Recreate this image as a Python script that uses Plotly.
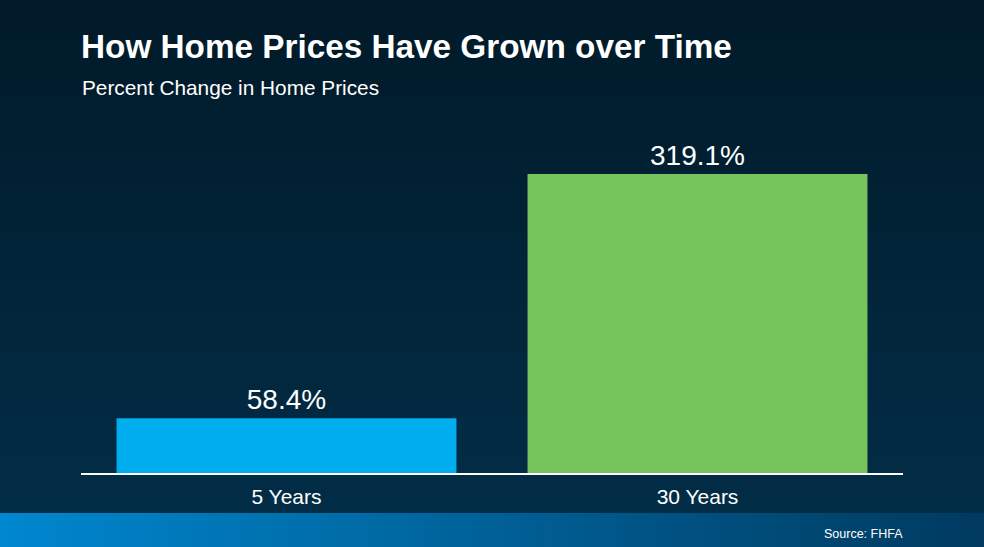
import plotly.graph_objects as go

# ---- data ----
categories = ["5 Years", "30 Years"]
values = [58.4, 319.1]
bar_colors = ["#00aeef", "#75c45c"]

title_text = "How Home Prices Have Grown over Time"
subtitle_text = "Percent Change in Home Prices"
source_text = "Source: FHFA"

# ---- layout constants (pixels) ----
W, H = 984, 547
ML, MR, MT, MB = 81, 81, 140, 74
PW, PH = W - ML - MR, H - MT - MB
Y_MAX = 355.4


def px_x(px):
    return (px - ML) / PW


def px_y(py):
    return (H - MB - py) / PH


def lerp(c1, c2, t):
    a = [int(c1[i:i + 2], 16) for i in (1, 3, 5)]
    b = [int(c2[i:i + 2], 16) for i in (1, 3, 5)]
    return "rgb(%d,%d,%d)" % tuple(round(a[k] + (b[k] - a[k]) * t) for k in range(3))


shapes = []
# vertical background gradient (each band extends to the bottom so no seams show)
n = 60
strip_top = 513
for i in range(n):
    y0 = strip_top * i / n
    shapes.append(dict(type="rect", xref="paper", yref="paper", layer="below",
                       x0=px_x(-2), x1=px_x(W + 2), y0=px_y(strip_top), y1=px_y(y0),
                       fillcolor=lerp("#011a28", "#022d47", i / (n - 1)), line_width=0))
# bottom horizontal gradient strip (each band extends to the right edge)
m = 80
for i in range(m):
    x0 = W * i / m
    shapes.append(dict(type="rect", xref="paper", yref="paper", layer="below",
                       x0=px_x(x0), x1=px_x(W + 2), y0=px_y(H + 2), y1=px_y(strip_top),
                       fillcolor=lerp("#0087cf", "#003a60", i / (m - 1)), line_width=0))

fig = go.Figure(go.Bar(
    x=categories, y=values,
    marker=dict(color=bar_colors, line_width=0),
    width=0.827,
    texttemplate="%{y:.1f}%", textposition="outside",
    textfont=dict(size=28, color="white", family="Liberation Sans, Arial, sans-serif"),
    cliponaxis=False,
))

fig.update_layout(
    width=W, height=H,
    margin=dict(l=ML, r=MR, t=MT, b=MB, pad=0),
    paper_bgcolor="#011a28", plot_bgcolor="rgba(0,0,0,0)",
    font=dict(family="Liberation Sans, Arial, sans-serif", color="white"),
    showlegend=False,
    bargap=0.173,
    shapes=shapes,
    xaxis=dict(showline=True, linecolor="white", linewidth=2, showgrid=False,
               ticks="", ticklabelstandoff=4,
               tickfont=dict(size=21, color="white"), fixedrange=True),
    yaxis=dict(range=[0, Y_MAX], visible=False, showgrid=False, fixedrange=True),
    annotations=[
        dict(text="<b>" + title_text + "</b>", xref="paper", yref="paper",
             x=px_x(79), y=px_y(47), xanchor="left", yanchor="middle",
             showarrow=False, font=dict(size=33.3, color="white")),
        dict(text=subtitle_text, xref="paper", yref="paper",
             x=px_x(80), y=px_y(88), xanchor="left", yanchor="middle",
             showarrow=False, font=dict(size=20.8, color="white")),
        dict(text=source_text, xref="paper", yref="paper",
             x=px_x(905), y=px_y(534), xanchor="right", yanchor="middle",
             showarrow=False, font=dict(size=12.5, color="white")),
    ],
)

fig.write_html(
    "out.html",
    config={"displayModeBar": False},
    post_script="document.body.style.margin='0';document.body.style.overflow='hidden';",
)
